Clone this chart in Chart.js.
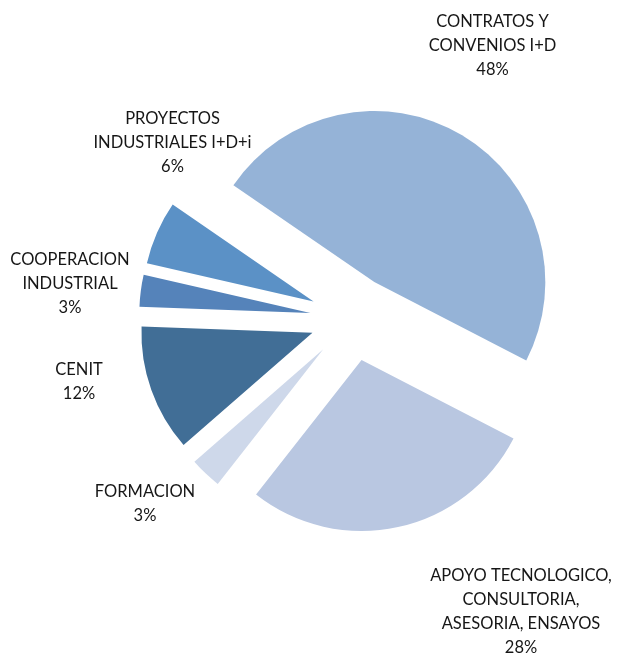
<!DOCTYPE html>
<html lang="es">
<head>
<meta charset="utf-8">
<title>Distribución de ingresos por actividad</title>
<script src="https://cdn.jsdelivr.net/npm/chart.js@4/dist/chart.umd.min.js"></script>
<style>
  html, body { margin: 0; padding: 0; background: #ffffff; }
  #wrap { position: relative; width: 620px; height: 655px; }
</style>
</head>
<body>
<div id="wrap"><canvas id="pie"></canvas></div>
<script>
// Activity categories (label lines) and their share of the total, in percent
const categories = [
  ['CONTRATOS Y', 'CONVENIOS I+D'],
  ['APOYO TECNOLOGICO,', 'CONSULTORIA,', 'ASESORIA, ENSAYOS'],
  ['FORMACION'],
  ['CENIT'],
  ['COOPERACION', 'INDUSTRIAL'],
  ['PROYECTOS', 'INDUSTRIALES I+D+i']
];
const shares = [48, 28, 3, 12, 3, 6];

// Slice fills
const sliceColors = ['#95b3d7', '#b9c7e1', '#ced8ea', '#416e96', '#5583ba', '#5b91c6'];

// Label block centres, relative to the pie centre (px)
const labelOffsets = [
  [140, -272.5],
  [168.5, 293.5],
  [-207.5, 185.5],
  [-273.5, 63.2],
  [-282.5, -34.5],
  [-180, -175.5]
];

const EXPLODE = 42.5;      // distance each slice is pulled out from the centre
const LINE_HEIGHT = 24;    // label line spacing
const LABEL_FONT = '16.5px Lato, "Open Sans", sans-serif';

// Pulls every slice outward along its bisector, then draws it with the arc element
const explodedSlices = {
  id: 'explodedSlices',
  beforeDatasetDraw(chart, args) {
    const ctx = chart.ctx;
    args.meta.data.forEach(arc => {
      const mid = (arc.startAngle + arc.endAngle) / 2;
      ctx.save();
      ctx.translate(Math.cos(mid) * EXPLODE, Math.sin(mid) * EXPLODE);
      arc.draw(ctx);
      ctx.restore();
    });
    return false;
  }
};

// Category name and percentage written beside each slice
const sliceLabels = {
  id: 'sliceLabels',
  afterDatasetsDraw(chart) {
    const ctx = chart.ctx;
    const meta = chart.getDatasetMeta(0);
    const total = shares.reduce((a, b) => a + b, 0);
    ctx.save();
    ctx.font = LABEL_FONT;
    ctx.fillStyle = '#161616';
    ctx.textAlign = 'center';
    ctx.textBaseline = 'middle';
    meta.data.forEach((arc, i) => {
      const lines = categories[i].concat([Math.round(shares[i] / total * 100) + '%']);
      const cx = arc.x + labelOffsets[i][0];
      const cy = arc.y + labelOffsets[i][1];
      const top = cy - (lines.length - 1) * LINE_HEIGHT / 2;
      lines.forEach((t, k) => ctx.fillText(t, cx, top + k * LINE_HEIGHT));
    });
    ctx.restore();
  }
};

new Chart(document.getElementById('pie'), {
  type: 'pie',
  data: {
    labels: categories.map(c => c.join(' ')),
    datasets: [{
      data: shares,
      backgroundColor: sliceColors,
      borderWidth: 0,
      radius: 171
    }]
  },
  options: {
    responsive: true,
    maintainAspectRatio: false,
    animation: false,
    rotation: -55.5,
    layout: { padding: { left: 85, right: 0, top: 0, bottom: 18 } },
    plugins: {
      legend: { display: false },
      tooltip: { enabled: false }
    }
  },
  plugins: [explodedSlices, sliceLabels]
});
</script>
</body>
</html>
